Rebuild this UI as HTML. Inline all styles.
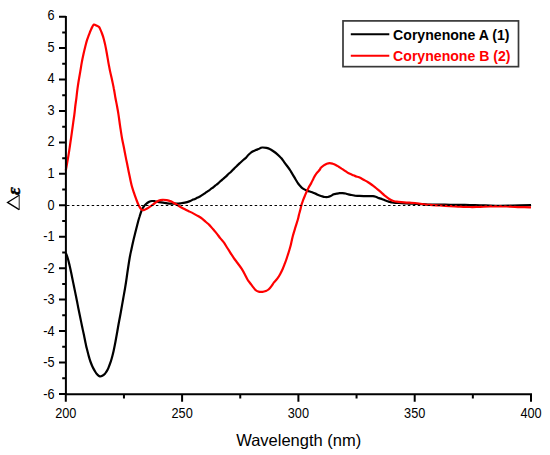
<!DOCTYPE html>
<html><head><meta charset="utf-8"><style>
html,body{margin:0;padding:0;background:#fff;width:550px;height:455px;overflow:hidden;}
svg{display:block;font-family:"Liberation Sans",sans-serif;}
</style></head><body>
<svg width="550" height="455" viewBox="0 0 550 455">
<rect width="550" height="455" fill="#fff"/>
<path d="M65.8,253.0 C66.2,253.9 67.3,256.6 67.9,258.7 C68.5,260.8 69.0,263.0 69.6,265.5 C70.2,268.0 70.8,270.9 71.4,273.8 C72.0,276.7 72.6,279.7 73.2,282.6 C73.8,285.5 74.4,288.5 75.0,291.4 C75.6,294.3 76.2,297.3 76.8,300.2 C77.4,303.1 77.9,306.1 78.5,309.0 C79.1,311.9 79.7,314.8 80.3,317.7 C80.9,320.6 81.5,323.6 82.1,326.5 C82.7,329.4 83.4,332.5 84.0,335.3 C84.6,338.1 85.1,341.1 85.6,343.3 C86.1,345.5 86.3,346.6 86.8,348.5 C87.3,350.4 87.8,352.6 88.4,354.8 C89.0,357.0 89.7,359.6 90.4,361.5 C91.1,363.4 91.7,364.9 92.4,366.5 C93.1,368.1 94.0,369.6 94.8,371.0 C95.6,372.4 96.5,373.7 97.3,374.6 C98.1,375.5 99.0,376.2 99.8,376.4 C100.6,376.6 101.4,376.3 102.3,375.8 C103.2,375.3 104.3,374.4 105.2,373.4 C106.1,372.3 107.0,371.0 107.7,369.5 C108.5,368.0 109.0,366.3 109.7,364.5 C110.4,362.7 111.1,360.8 111.7,358.5 C112.3,356.2 113.0,353.8 113.6,351.0 C114.2,348.2 114.9,344.8 115.5,341.5 C116.1,338.2 116.7,334.9 117.3,331.5 C117.9,328.1 118.5,324.4 119.2,320.8 C119.9,317.2 120.6,313.6 121.2,310.0 C121.8,306.4 122.5,302.8 123.1,299.2 C123.7,295.6 124.4,292.1 125.0,288.5 C125.6,284.9 126.2,281.2 126.7,277.5 C127.2,273.8 127.8,269.8 128.3,266.5 C128.8,263.2 129.2,260.6 129.7,257.7 C130.2,254.8 130.8,252.2 131.4,249.4 C132.0,246.7 132.6,243.9 133.2,241.2 C133.8,238.5 134.5,235.8 135.2,233.0 C135.9,230.2 136.6,227.4 137.3,224.7 C138.0,221.9 138.8,218.9 139.6,216.5 C140.3,214.1 141.1,211.7 141.8,210.0 C142.5,208.3 143.1,207.5 143.8,206.5 C144.5,205.5 145.1,204.8 146.0,204.0 C146.9,203.2 148.2,202.3 149.2,201.8 C150.2,201.3 151.0,201.1 152.0,201.0 C153.0,200.9 153.8,201.1 155.0,201.3 C156.2,201.5 157.7,201.9 159.0,202.1 C160.3,202.3 161.7,202.5 163.1,202.7 C164.5,202.9 165.9,203.2 167.3,203.3 C168.8,203.5 170.3,203.6 171.8,203.6 C173.3,203.6 174.8,203.6 176.2,203.6 C177.6,203.6 179.1,203.5 180.5,203.3 C181.9,203.1 183.4,202.9 184.9,202.6 C186.4,202.3 187.9,201.9 189.3,201.4 C190.7,200.9 191.8,200.2 193.2,199.6 C194.6,199.0 196.5,198.1 197.6,197.6 C198.7,197.1 199.3,196.9 200.0,196.5 C200.7,196.1 201.3,195.7 202.0,195.2 C202.7,194.7 203.7,194.1 204.4,193.6 C205.1,193.1 205.7,192.7 206.4,192.2 C207.1,191.7 208.1,191.1 208.8,190.6 C209.5,190.1 210.1,189.6 210.8,189.0 C211.5,188.4 212.5,187.9 213.2,187.3 C213.9,186.8 214.5,186.3 215.2,185.7 C215.9,185.1 216.9,184.4 217.6,183.8 C218.3,183.2 218.9,182.7 219.6,182.0 C220.3,181.3 221.3,180.6 222.0,179.9 C222.7,179.2 223.3,178.7 224.0,178.1 C224.7,177.5 225.7,176.8 226.4,176.1 C227.1,175.4 227.7,174.7 228.4,174.0 C229.1,173.3 230.1,172.7 230.8,172.0 C231.6,171.3 232.1,170.5 232.9,169.7 C233.7,168.9 234.6,168.2 235.5,167.3 C236.4,166.5 237.3,165.4 238.2,164.6 C239.1,163.8 239.9,163.0 240.8,162.2 C241.7,161.4 242.6,160.6 243.5,159.8 C244.4,159.0 245.4,158.3 246.1,157.6 C246.8,156.9 247.2,156.2 247.9,155.4 C248.6,154.6 249.6,153.7 250.5,153.0 C251.4,152.3 252.2,151.8 253.1,151.3 C254.0,150.8 254.9,150.5 255.8,150.1 C256.7,149.7 257.5,149.5 258.4,149.1 C259.3,148.7 260.3,148.0 261.0,147.7 C261.7,147.4 261.9,147.5 262.8,147.5 C263.7,147.5 265.2,147.7 266.4,147.9 C267.5,148.2 268.6,148.5 269.7,149.0 C270.8,149.5 271.7,150.1 273.0,151.0 C274.3,151.9 276.0,153.1 277.4,154.3 C278.8,155.5 280.1,156.8 281.2,158.1 C282.3,159.3 283.0,160.5 284.0,161.8 C285.0,163.2 286.2,164.8 287.3,166.2 C288.4,167.6 289.5,169.2 290.3,170.5 C291.1,171.8 291.4,172.4 292.3,173.8 C293.2,175.2 294.5,177.5 295.5,179.2 C296.5,180.9 297.7,182.9 298.5,184.0 C299.3,185.1 299.4,185.2 300.2,186.0 C300.9,186.8 301.8,187.8 303.0,188.6 C304.2,189.4 305.7,190.1 307.2,190.7 C308.7,191.3 310.6,191.7 312.2,192.3 C313.8,192.9 315.4,193.8 317.0,194.4 C318.6,195.1 320.4,195.8 321.7,196.2 C323.0,196.6 323.8,196.9 324.8,197.0 C325.8,197.1 326.8,197.2 327.8,197.0 C328.8,196.8 329.8,196.4 330.8,196.0 C331.8,195.6 332.7,194.7 333.7,194.3 C334.7,193.9 335.7,193.9 336.7,193.7 C337.7,193.5 338.6,193.3 339.6,193.2 C340.6,193.1 341.6,193.0 342.6,193.1 C343.6,193.2 344.6,193.3 345.6,193.5 C346.6,193.7 347.5,194.2 348.5,194.4 C349.5,194.7 350.4,194.8 351.5,195.0 C352.6,195.2 353.7,195.5 355.0,195.7 C356.3,195.8 357.9,195.8 359.4,195.9 C360.8,196.0 362.2,196.1 363.7,196.2 C365.1,196.2 366.6,196.2 368.1,196.2 C369.7,196.2 371.7,196.1 373.0,196.2 C374.3,196.3 374.7,196.4 375.7,196.7 C376.7,197.0 377.9,197.7 379.0,198.1 C380.1,198.5 381.2,198.8 382.3,199.2 C383.4,199.6 384.4,200.1 385.5,200.5 C386.6,200.9 387.7,201.3 388.8,201.6 C389.9,201.9 391.0,202.3 392.1,202.5 C393.2,202.7 394.2,202.8 395.3,202.9 C396.4,203.0 397.1,202.9 398.6,203.0 C400.1,203.1 402.3,203.2 404.1,203.3 C405.9,203.4 407.7,203.5 409.5,203.6 C411.3,203.7 412.8,203.7 415.0,203.8 C417.2,203.9 420.2,204.0 422.7,204.1 C425.2,204.2 426.3,204.5 430.0,204.6 C433.7,204.7 440.0,204.7 445.0,204.7 C450.0,204.7 455.8,204.8 460.0,204.8 C464.2,204.9 466.7,204.9 470.0,205.0 C473.3,205.1 476.7,205.2 480.0,205.3 C483.3,205.4 486.7,205.5 490.0,205.6 C493.3,205.7 496.7,205.8 500.0,205.8 C503.3,205.8 506.7,205.8 510.0,205.7 C513.3,205.6 516.5,205.5 520.0,205.4 C523.5,205.3 529.2,205.2 531.0,205.2" fill="none" stroke="#000" stroke-width="2.2" stroke-linejoin="round" stroke-linecap="butt"/>
<path d="M65.8,170.5 C66.1,168.6 67.2,162.8 67.8,159.3 C68.4,155.8 68.9,153.0 69.4,149.4 C70.0,145.8 70.5,141.7 71.1,137.9 C71.6,134.1 72.2,130.2 72.7,126.4 C73.2,122.6 73.8,118.7 74.3,115.0 C74.8,111.3 75.1,107.5 75.5,104.5 C75.9,101.5 76.2,99.8 76.5,97.1 C76.8,94.4 77.1,91.4 77.5,88.6 C77.9,85.8 78.3,82.9 78.8,80.0 C79.3,77.1 79.8,74.2 80.3,71.4 C80.8,68.6 81.2,65.7 81.7,62.9 C82.2,60.1 82.8,57.2 83.4,54.5 C84.0,51.8 84.7,48.9 85.3,46.5 C85.9,44.1 86.4,42.0 87.0,40.1 C87.6,38.2 88.2,36.8 88.8,35.2 C89.4,33.7 89.9,32.2 90.5,30.8 C91.1,29.4 91.7,27.9 92.3,26.9 C92.9,25.9 93.2,24.9 93.9,24.6 C94.6,24.4 95.5,25.0 96.3,25.4 C97.1,25.8 98.2,26.2 98.9,26.8 C99.6,27.4 99.7,28.0 100.2,29.1 C100.7,30.2 101.4,31.9 102.0,33.5 C102.6,35.1 103.2,36.8 103.7,38.7 C104.2,40.6 104.7,42.5 105.2,44.9 C105.7,47.3 106.3,50.3 106.8,53.3 C107.3,56.2 107.9,59.6 108.4,62.6 C109.0,65.6 109.5,68.5 110.1,71.4 C110.7,74.3 111.5,77.3 112.1,80.2 C112.7,83.1 113.4,86.1 113.9,89.0 C114.5,91.9 114.9,94.8 115.4,97.7 C115.9,100.6 116.6,103.6 117.1,106.5 C117.6,109.4 118.1,112.0 118.6,115.3 C119.1,118.5 119.5,122.1 120.1,126.0 C120.7,129.9 121.4,135.0 122.1,138.7 C122.8,142.4 123.4,144.9 124.0,148.0 C124.6,151.1 125.2,154.3 125.8,157.4 C126.4,160.5 127.1,163.6 127.7,166.7 C128.3,169.8 128.9,172.9 129.6,176.0 C130.2,179.1 130.9,182.4 131.6,185.2 C132.3,188.0 133.1,190.1 133.9,192.6 C134.7,195.1 135.7,197.8 136.5,200.0 C137.3,202.2 138.2,204.4 139.0,206.0 C139.8,207.6 140.7,208.8 141.5,209.5 C142.3,210.2 143.0,210.3 143.8,210.2 C144.7,210.1 145.6,209.4 146.6,208.8 C147.6,208.2 148.7,207.5 150.0,206.6 C151.3,205.7 153.0,204.5 154.4,203.5 C155.8,202.5 157.1,201.4 158.4,200.8 C159.8,200.2 161.2,199.9 162.5,199.8 C163.8,199.7 165.3,199.9 166.5,200.1 C167.7,200.3 168.6,200.6 169.5,200.9 C170.4,201.2 170.7,201.2 171.8,201.8 C172.9,202.4 174.8,203.3 176.2,204.2 C177.6,205.1 179.1,206.2 180.5,207.0 C181.9,207.8 183.4,208.6 184.9,209.3 C186.4,210.1 187.9,210.8 189.3,211.5 C190.8,212.2 192.1,212.8 193.6,213.6 C195.1,214.4 197.0,215.4 198.5,216.3 C200.0,217.2 201.2,218.0 202.4,218.9 C203.6,219.8 204.7,221.0 205.9,222.0 C207.1,223.0 208.3,223.9 209.5,225.1 C210.7,226.3 211.9,227.9 213.1,229.3 C214.3,230.7 215.6,232.1 216.8,233.6 C218.0,235.1 219.2,236.9 220.4,238.4 C221.6,239.9 222.9,241.1 224.0,242.6 C225.1,244.1 226.0,245.9 227.0,247.5 C228.0,249.1 229.0,250.6 230.1,252.3 C231.2,254.0 232.5,256.0 233.7,257.8 C234.9,259.6 236.2,261.2 237.5,263.0 C238.8,264.8 240.4,266.8 241.6,268.7 C242.8,270.6 243.9,272.6 244.9,274.5 C245.9,276.4 246.7,278.3 247.6,279.8 C248.5,281.3 249.5,282.3 250.4,283.5 C251.3,284.7 252.2,286.0 253.1,287.1 C254.0,288.2 255.0,289.6 255.9,290.3 C256.8,291.1 257.5,291.4 258.6,291.6 C259.7,291.9 261.3,291.9 262.5,291.8 C263.7,291.7 264.8,291.4 265.8,291.0 C266.8,290.6 267.6,290.3 268.5,289.5 C269.4,288.7 270.4,287.5 271.3,286.3 C272.2,285.1 273.0,283.7 274.0,282.4 C275.0,281.1 276.3,280.0 277.3,278.6 C278.3,277.2 279.2,275.9 280.1,274.2 C281.0,272.5 282.0,270.5 282.8,268.7 C283.6,266.9 284.2,265.2 285.0,263.2 C285.8,261.2 286.6,258.8 287.3,256.5 C288.1,254.2 288.9,251.5 289.5,249.5 C290.1,247.5 290.4,246.7 290.9,244.5 C291.4,242.3 292.0,239.3 292.7,236.5 C293.4,233.7 294.4,230.6 295.3,227.7 C296.2,224.8 297.4,221.1 298.0,219.0 C298.6,216.9 298.5,216.6 298.9,215.0 C299.3,213.4 300.0,211.2 300.4,209.6 C300.8,207.9 301.0,206.6 301.4,205.1 C301.8,203.6 302.3,202.3 302.9,200.7 C303.5,199.1 304.2,197.3 304.9,195.7 C305.6,194.1 306.2,192.7 306.9,191.3 C307.5,189.9 308.1,188.7 308.8,187.3 C309.5,185.9 310.6,184.3 311.3,182.9 C312.1,181.5 312.6,180.2 313.3,178.9 C314.0,177.6 314.6,176.3 315.3,175.2 C316.0,174.0 316.9,172.9 317.7,172.0 C318.5,171.1 319.4,170.2 319.9,169.5 C320.4,168.8 320.2,168.5 320.9,167.8 C321.5,167.1 322.8,166.1 323.8,165.4 C324.8,164.7 325.8,164.1 326.8,163.7 C327.8,163.3 328.8,163.1 329.8,163.1 C330.8,163.1 331.7,163.4 332.7,163.7 C333.7,164.0 334.7,164.4 335.7,164.9 C336.7,165.4 337.7,166.1 338.7,166.7 C339.7,167.3 340.6,167.9 341.6,168.6 C342.6,169.2 343.6,169.9 344.6,170.6 C345.6,171.3 346.5,172.0 347.5,172.6 C348.5,173.2 349.5,173.6 350.5,174.0 C351.5,174.4 352.5,174.9 353.5,175.3 C354.5,175.7 355.6,176.2 356.4,176.5 C357.2,176.8 357.4,176.7 358.3,177.0 C359.2,177.3 360.4,177.9 361.5,178.5 C362.6,179.1 363.7,179.8 364.8,180.4 C365.9,181.0 367.0,181.6 368.1,182.3 C369.2,183.0 370.3,183.7 371.4,184.5 C372.5,185.3 373.5,186.1 374.6,186.9 C375.7,187.8 376.8,188.7 377.9,189.6 C379.0,190.5 380.1,191.4 381.2,192.4 C382.3,193.4 383.3,194.4 384.4,195.3 C385.5,196.2 386.6,197.0 387.7,197.8 C388.8,198.6 389.9,199.4 391.0,200.0 C392.1,200.6 393.0,201.0 394.3,201.3 C395.6,201.6 397.0,201.6 398.6,201.8 C400.2,202.0 402.3,202.2 404.1,202.3 C405.9,202.5 407.7,202.6 409.5,202.7 C411.3,202.8 412.9,202.8 415.0,203.0 C417.1,203.2 419.5,203.7 422.0,204.0 C424.5,204.3 427.0,204.7 430.0,204.9 C433.0,205.2 436.7,205.3 440.0,205.5 C443.3,205.7 446.7,205.9 450.0,206.1 C453.3,206.3 456.7,206.4 460.0,206.6 C463.3,206.8 467.0,206.9 470.0,207.0 C473.0,207.1 474.7,207.0 478.0,206.9 C481.3,206.8 486.3,206.5 490.0,206.4 C493.7,206.3 496.7,206.3 500.0,206.3 C503.3,206.3 506.7,206.5 510.0,206.6 C513.3,206.7 516.5,207.0 520.0,207.1 C523.5,207.2 529.2,207.3 531.0,207.4" fill="none" stroke="#ff0000" stroke-width="2.2" stroke-linejoin="round" stroke-linecap="butt"/>
<line x1="67" y1="205.5" x2="531.5" y2="205.5" stroke="#000" stroke-width="1.2" stroke-dasharray="2.47 2.47"/>
<path d="M65.90,15.9 V395.20 M64.90,394.20 H532 M59,393.94 H65.90 M59,362.50 H65.90 M59,331.06 H65.90 M59,299.62 H65.90 M59,268.18 H65.90 M59,236.74 H65.90 M59,205.30 H65.90 M59,173.86 H65.90 M59,142.42 H65.90 M59,110.98 H65.90 M59,79.54 H65.90 M59,48.10 H65.90 M59,16.66 H65.90 M62.2,378.22 H65.90 M62.2,346.78 H65.90 M62.2,315.34 H65.90 M62.2,283.90 H65.90 M62.2,252.46 H65.90 M62.2,221.02 H65.90 M62.2,189.58 H65.90 M62.2,158.14 H65.90 M62.2,126.70 H65.90 M62.2,95.26 H65.90 M62.2,63.82 H65.90 M62.2,32.38 H65.90 M65.80,394.20 V401.8 M182.10,394.20 V401.8 M298.40,394.20 V401.8 M414.70,394.20 V401.8 M531.00,394.20 V401.8 M123.95,394.20 V398.6 M240.25,394.20 V398.6 M356.55,394.20 V398.6 M472.85,394.20 V398.6" fill="none" stroke="#000" stroke-width="2"/>
<g font-family="Liberation Sans" font-size="14" fill="#000"><text transform="translate(54.5,398.84) scale(0.91,1)" text-anchor="end">-6</text><text transform="translate(54.5,367.29) scale(0.91,1)" text-anchor="end">-5</text><text transform="translate(54.5,335.74) scale(0.91,1)" text-anchor="end">-4</text><text transform="translate(54.5,304.19) scale(0.91,1)" text-anchor="end">-3</text><text transform="translate(54.5,272.65) scale(0.91,1)" text-anchor="end">-2</text><text transform="translate(54.5,241.10) scale(0.91,1)" text-anchor="end">-1</text><text transform="translate(54.5,209.55) scale(0.91,1)" text-anchor="end">0</text><text transform="translate(54.5,178.00) scale(0.91,1)" text-anchor="end">1</text><text transform="translate(54.5,146.45) scale(0.91,1)" text-anchor="end">2</text><text transform="translate(54.5,114.91) scale(0.91,1)" text-anchor="end">3</text><text transform="translate(54.5,83.36) scale(0.91,1)" text-anchor="end">4</text><text transform="translate(54.5,51.81) scale(0.91,1)" text-anchor="end">5</text><text transform="translate(54.5,20.26) scale(0.91,1)" text-anchor="end">6</text><text transform="translate(65.80,417.5) scale(0.91,1)" text-anchor="middle">200</text><text transform="translate(182.10,417.5) scale(0.91,1)" text-anchor="middle">250</text><text transform="translate(298.40,417.5) scale(0.91,1)" text-anchor="middle">300</text><text transform="translate(414.70,417.5) scale(0.91,1)" text-anchor="middle">350</text><text transform="translate(531.00,417.5) scale(0.91,1)" text-anchor="middle">400</text></g>
<text x="236.2" y="445.8" font-family="Liberation Sans" font-size="16.5" fill="#000">Wavelength (nm)</text>
<path d="M19.2,195.3 L7.5,202.4 L19.2,209.6" fill="none" stroke="#000" stroke-width="1.25" stroke-linejoin="miter"/>
<path d="M19.2,195.0 V209.9" fill="none" stroke="#222" stroke-width="1"/>
<text transform="translate(19.8,195.0) rotate(-90)" font-family="Liberation Serif" font-weight="bold" font-style="italic" font-size="19" text-anchor="start" fill="#000" stroke="#000" stroke-width="0.5">&#949;</text>
<rect x="343" y="20.9" width="175.5" height="45.75" fill="#fff" stroke="#383838" stroke-width="1.7"/>
<line x1="350.8" y1="34.3" x2="389.3" y2="34.3" stroke="#000" stroke-width="2"/>
<line x1="350.8" y1="55.7" x2="389.3" y2="55.7" stroke="#ff0000" stroke-width="2"/>
<text x="393.1" y="39.7" font-family="Liberation Sans" font-weight="bold" font-size="14.1" fill="#000">Corynenone A (1)</text>
<text x="393.1" y="61.4" font-family="Liberation Sans" font-weight="bold" font-size="14.1" fill="#ff0000">Corynenone B (2)</text>
</svg>
</body></html>
